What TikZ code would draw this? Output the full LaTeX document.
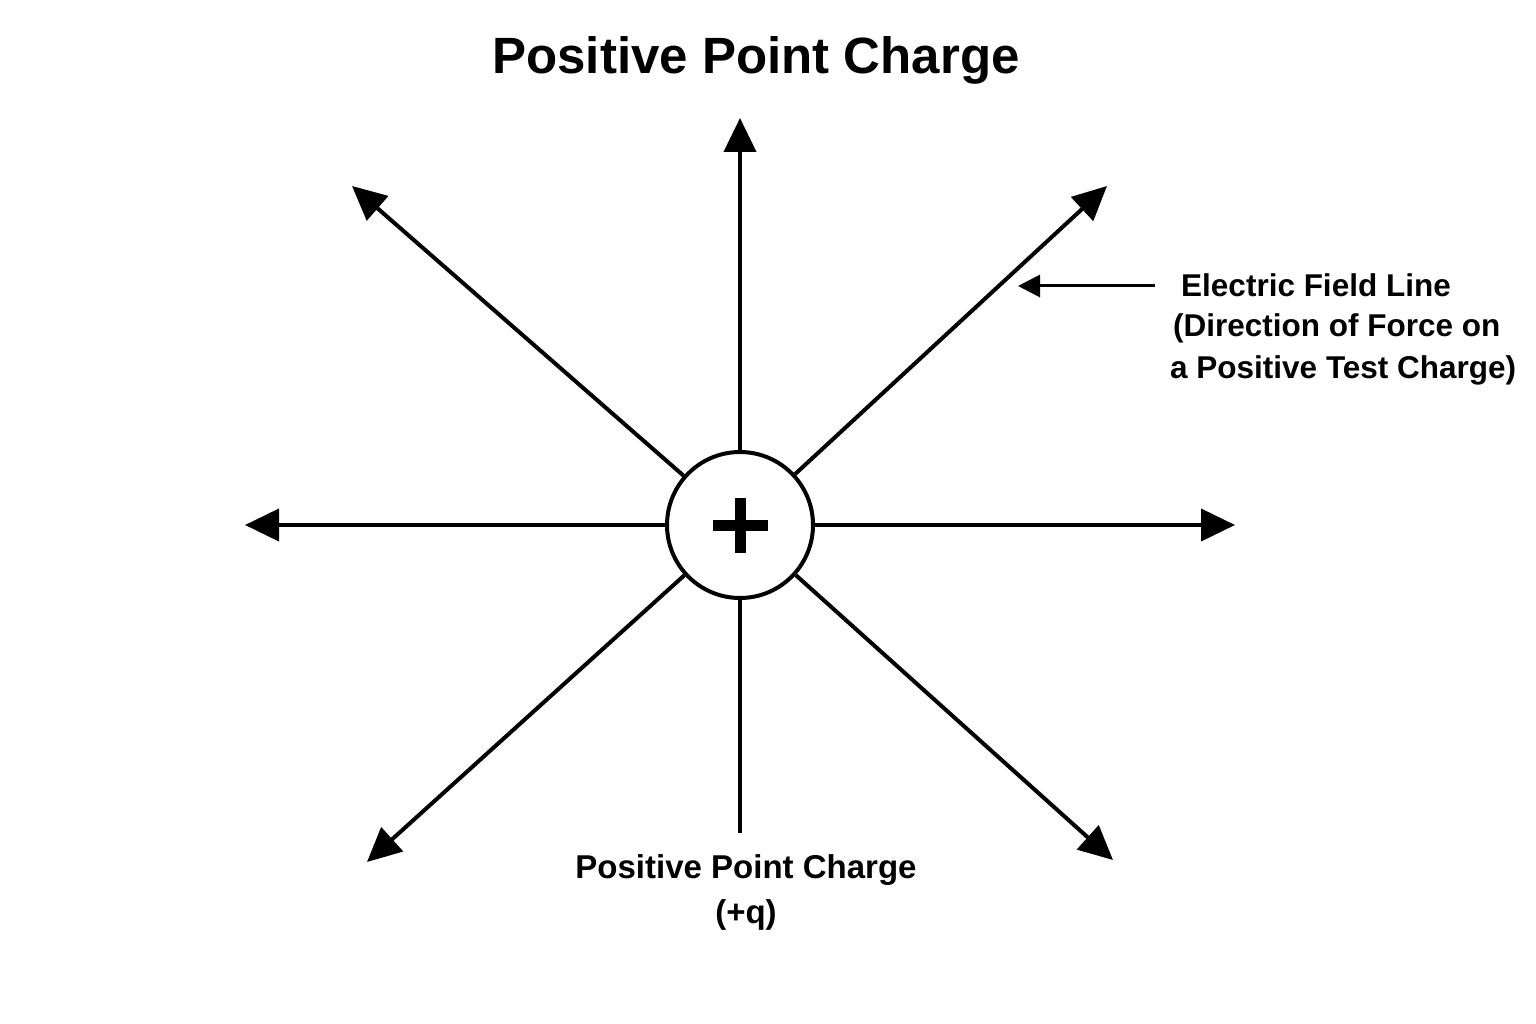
\documentclass[tikz,border=0pt]{standalone}
\usepackage{fontspec}
\setmainfont{Liberation Sans}
\usetikzlibrary{arrows.meta}
\begin{document}
\begin{tikzpicture}[x=1pt,y=-1pt,
  field/.style={line width=4pt,-{Triangle[length=34pt,width=32pt]}},
  plainline/.style={line width=4pt},
  callout/.style={line width=3pt,-{Triangle[length=22pt,width=22pt]}},
  lbl/.style={font=\fontsize{31.5}{38}\selectfont\bfseries,inner sep=0pt},
  blbl/.style={font=\fontsize{33}{40}\selectfont\bfseries,inner sep=0pt}]
\useasboundingbox[fill=white] (0,0) rectangle (1536,1024);
\node[circle,draw,line width=4pt,minimum size=146pt,inner sep=0pt] (q) at (740,525) {};
\fill (713,520) rectangle (768,531);
\fill (735,498) rectangle (746,553);
\coordinate (tn) at (740,118);
\coordinate (tnw) at (352,186);
\coordinate (tne) at (1107,186);
\coordinate (tw) at (245,525);
\coordinate (te) at (1235,525);
\coordinate (tsw) at (367,862);
\coordinate (tse) at (1113,860);
\coordinate (ts) at (740,833);
\draw[field] (q) -- (tn);
\draw[field] (q) -- (tnw);
\draw[field] (q) -- (tne);
\draw[field] (q) -- (tw);
\draw[field] (q) -- (te);
\draw[field] (q) -- (tsw);
\draw[field] (q) -- (tse);
\draw[plainline] (q) -- (ts);
\node[font=\fontsize{51}{60}\selectfont\bfseries,inner sep=0pt] (title) at (756,60) {Positive Point Charge};
\node[lbl,anchor=west] (l1) at (1181,285) {Electric Field Line};
\node[lbl,anchor=west] (l2) at (1173,328) {(Direction of Force on};
\node[lbl,anchor=west] (l3) at (1170,370) {a Positive Test Charge)};
\coordinate (cs) at (1155,286);
\coordinate (ce) at (1018,286);
\draw[callout] (cs) -- (ce);
\node[blbl] (b1) at (746,870) {Positive Point Charge};
\node[blbl] (b2) at (746,915) {(+q)};
\end{tikzpicture}
\end{document}
